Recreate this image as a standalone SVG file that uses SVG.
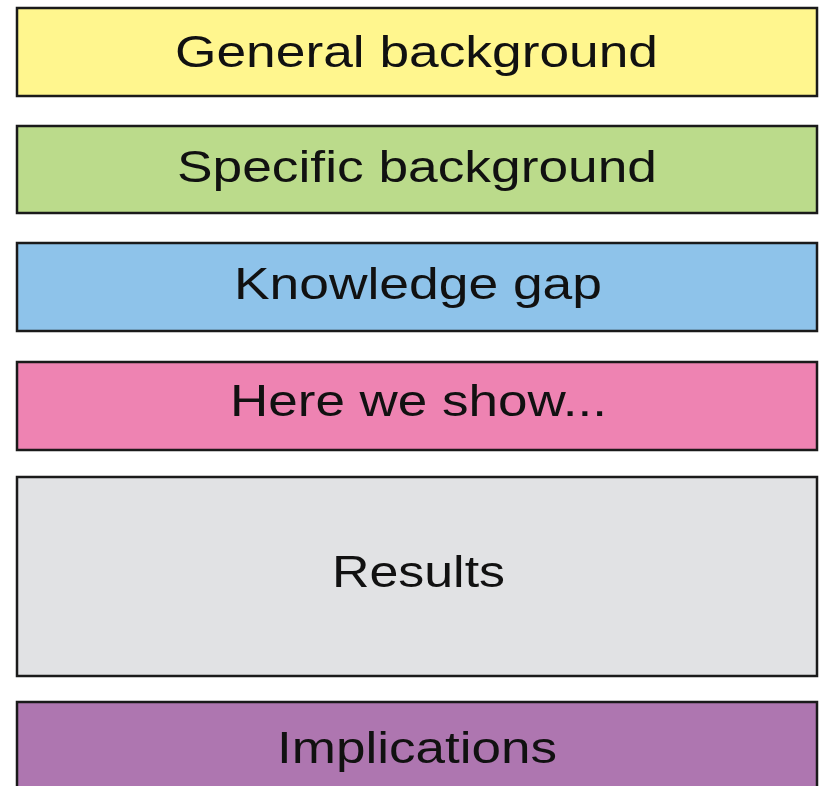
<svg xmlns="http://www.w3.org/2000/svg" width="819" height="786" viewBox="0 0 819 786">
  <style>
    .box { stroke: #1a1a1a; stroke-width: 2.5; }
    .label { font-family: "Liberation Sans", Arial, Helvetica, sans-serif; font-size: 45px; fill: #111111; text-anchor: middle; }
  </style>
  <rect width="819" height="786" fill="#ffffff"/>

  <g id="general-background">
    <rect class="box" x="17" y="8" width="800" height="88" fill="#fff68e"/>
    <text class="label" x="416.5" y="67" textLength="483" lengthAdjust="spacingAndGlyphs">General background</text>
  </g>

  <g id="specific-background">
    <rect class="box" x="17" y="126" width="800" height="87" fill="#bbdb8b"/>
    <text class="label" x="417" y="182" textLength="480" lengthAdjust="spacingAndGlyphs">Specific background</text>
  </g>

  <g id="knowledge-gap">
    <rect class="box" x="17" y="243" width="800" height="88" fill="#8ec3ea"/>
    <text class="label" x="418" y="299" textLength="368" lengthAdjust="spacingAndGlyphs">Knowledge gap</text>
  </g>

  <g id="here-we-show">
    <rect class="box" x="17" y="362" width="800" height="88" fill="#ee83b2"/>
    <text class="label" x="418.5" y="416" textLength="377" lengthAdjust="spacingAndGlyphs">Here we show...</text>
  </g>

  <g id="results">
    <rect class="box" x="17" y="477" width="800" height="199" fill="#e1e2e4"/>
    <text class="label" x="418.5" y="587" textLength="173" lengthAdjust="spacingAndGlyphs">Results</text>
  </g>

  <g id="implications">
    <rect class="box" x="17" y="702" width="800" height="110" fill="#ae76b0"/>
    <text class="label" x="417" y="763" textLength="280" lengthAdjust="spacingAndGlyphs">Implications</text>
  </g>

  <g id="connectors"></g>
</svg>
